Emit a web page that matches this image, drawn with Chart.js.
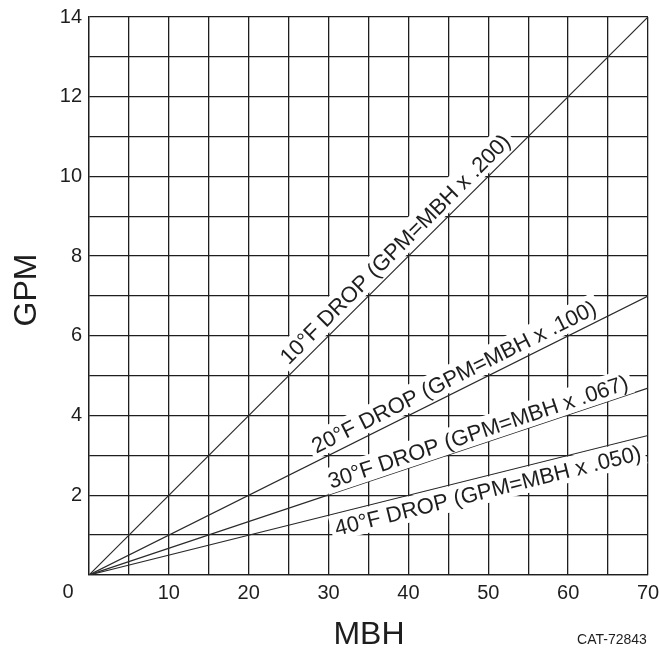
<!DOCTYPE html>
<html lang="en">
<head>
    <meta charset="UTF-8">
    <title>GPM vs MBH</title>
    <script src="https://cdn.jsdelivr.net/npm/chart.js"></script>
    <style>
        html, body { margin: 0; padding: 0; background: #fff; }
        #wrap { width: 659px; height: 654px; position: relative; }
    </style>
</head>
<body>
    <div id="wrap"><canvas id="chart"></canvas></div>

    <script>
        // 数据
        const mbhEnds = [0, 70];
        const gpm10 = [0, 14];
        const gpm20 = [0, 7];
        const gpm30 = [0, 4.69];
        const gpm40 = [0, 3.5];
        const lineLabels = [
            '10°F DROP (GPM=MBH x .200)',
            '20°F DROP (GPM=MBH x .100)',
            '30°F DROP (GPM=MBH x .067)',
            '40°F DROP (GPM=MBH x .050)'
        ];
        const xTicks = [10, 20, 30, 40, 50, 60, 70];
        const yTicks = [2, 4, 6, 8, 10, 12, 14];

        const FONT = "'Liberation Sans', Arial, sans-serif";
        const INK = '#1e1e1e';

        function pts(ys) {
            return mbhEnds.map((x, i) => ({ x: x, y: ys[i] }));
        }

        // 标签位置: 沿线的 MBH 位置, 垂直偏移(正=线上方)
        const labelPlace = [
            { at: 39.6, off: 15 },
            { at: 46.5, off: 15 },
            { at: 49.2, off: 13 },
            { at: 49.5, off: -14 }
        ];

        const lineLabelPlugin = {
            id: 'lineLabels',
            afterDatasetsDraw(chart) {
                const ctx = chart.ctx;
                const xs = chart.scales.x, ys = chart.scales.y;
                const fs = 22;
                ctx.save();
                ctx.font = fs + 'px ' + FONT;
                chart.data.datasets.forEach((ds, i) => {
                    const p0 = ds.data[0], p1 = ds.data[1];
                    const x0 = xs.getPixelForValue(p0.x), y0 = ys.getPixelForValue(p0.y);
                    const x1 = xs.getPixelForValue(p1.x), y1 = ys.getPixelForValue(p1.y);
                    const ang = Math.atan2(y1 - y0, x1 - x0);
                    const place = labelPlace[i];
                    const t = (place.at - p0.x) / (p1.x - p0.x);
                    const cx = x0 + (x1 - x0) * t;
                    const cy = y0 + (y1 - y0) * t;
                    const text = lineLabels[i];
                    const w = ctx.measureText(text).width;
                    const capH = fs * 0.716;
                    ctx.save();
                    ctx.translate(cx, cy);
                    ctx.rotate(ang);
                    ctx.translate(0, -place.off);
                    ctx.fillStyle = '#fff';
                    ctx.fillRect(-w / 2 - 4, -capH / 2 - 5, w + 8, capH + 10);
                    ctx.fillStyle = INK;
                    ctx.textAlign = 'center';
                    ctx.textBaseline = 'alphabetic';
                    ctx.fillText(text, 0, capH / 2);
                    ctx.restore();
                });
                ctx.restore();
            },
            afterDraw(chart) {
                const ctx = chart.ctx;
                ctx.save();
                ctx.fillStyle = INK;
                ctx.textAlign = 'center';
                ctx.textBaseline = 'middle';
                // 原点 0
                ctx.font = '20px ' + FONT;
                ctx.fillText('0', 68, 592);
                // 轴标题
                ctx.font = '32px ' + FONT;
                ctx.fillText('MBH', 369, 635);
                ctx.save();
                ctx.translate(27, 290);
                ctx.rotate(-Math.PI / 2);
                ctx.fillText('GPM', 0, 0);
                ctx.restore();
                ctx.font = '14px ' + FONT;
                ctx.fillText('CAT-72843', 612, 640);
                ctx.restore();
            }
        };

        const lineStyle = { borderColor: '#2a2a2a', borderWidth: 1.2, pointRadius: 0, showLine: true, fill: false };

        new Chart(document.getElementById('chart'), {
            type: 'scatter',
            data: {
                datasets: [
                    Object.assign({ label: lineLabels[0], data: pts(gpm10) }, lineStyle),
                    Object.assign({ label: lineLabels[1], data: pts(gpm20) }, lineStyle),
                    Object.assign({ label: lineLabels[2], data: pts(gpm30) }, lineStyle),
                    Object.assign({ label: lineLabels[3], data: pts(gpm40) }, lineStyle)
                ]
            },
            options: {
                responsive: true,
                maintainAspectRatio: false,
                animation: false,
                layout: { padding: { left: 0, top: 17, right: 11, bottom: 0 } },
                plugins: {
                    legend: { display: false },
                    tooltip: { enabled: false }
                },
                scales: {
                    x: {
                        type: 'linear',
                        min: 0,
                        max: 70,
                        afterFit(scale) {
                            scale.height = 79;
                            scale.paddingLeft = 0;
                            scale.paddingRight = 0;
                        },
                        grid: { color: INK, lineWidth: 1.3, drawTicks: false },
                        border: { color: INK, width: 1.3 },
                        ticks: {
                            stepSize: 5,
                            padding: 6,
                            color: INK,
                            font: { family: FONT, size: 20 },
                            maxRotation: 0,
                            autoSkip: false,
                            callback: v => xTicks.includes(v) ? String(v) : ''
                        }
                    },
                    y: {
                        type: 'linear',
                        min: 0,
                        max: 14,
                        afterFit(scale) {
                            scale.width = 89;
                            scale.paddingTop = 0;
                            scale.paddingBottom = 0;
                        },
                        grid: { color: INK, lineWidth: 1.3, drawTicks: false },
                        border: { color: INK, width: 1.3 },
                        ticks: {
                            stepSize: 1,
                            padding: 7,
                            color: INK,
                            font: { family: FONT, size: 20 },
                            autoSkip: false,
                            callback: v => yTicks.includes(v) ? String(v) : ''
                        }
                    }
                }
            },
            plugins: [lineLabelPlugin]
        });
    </script>
</body>
</html>
